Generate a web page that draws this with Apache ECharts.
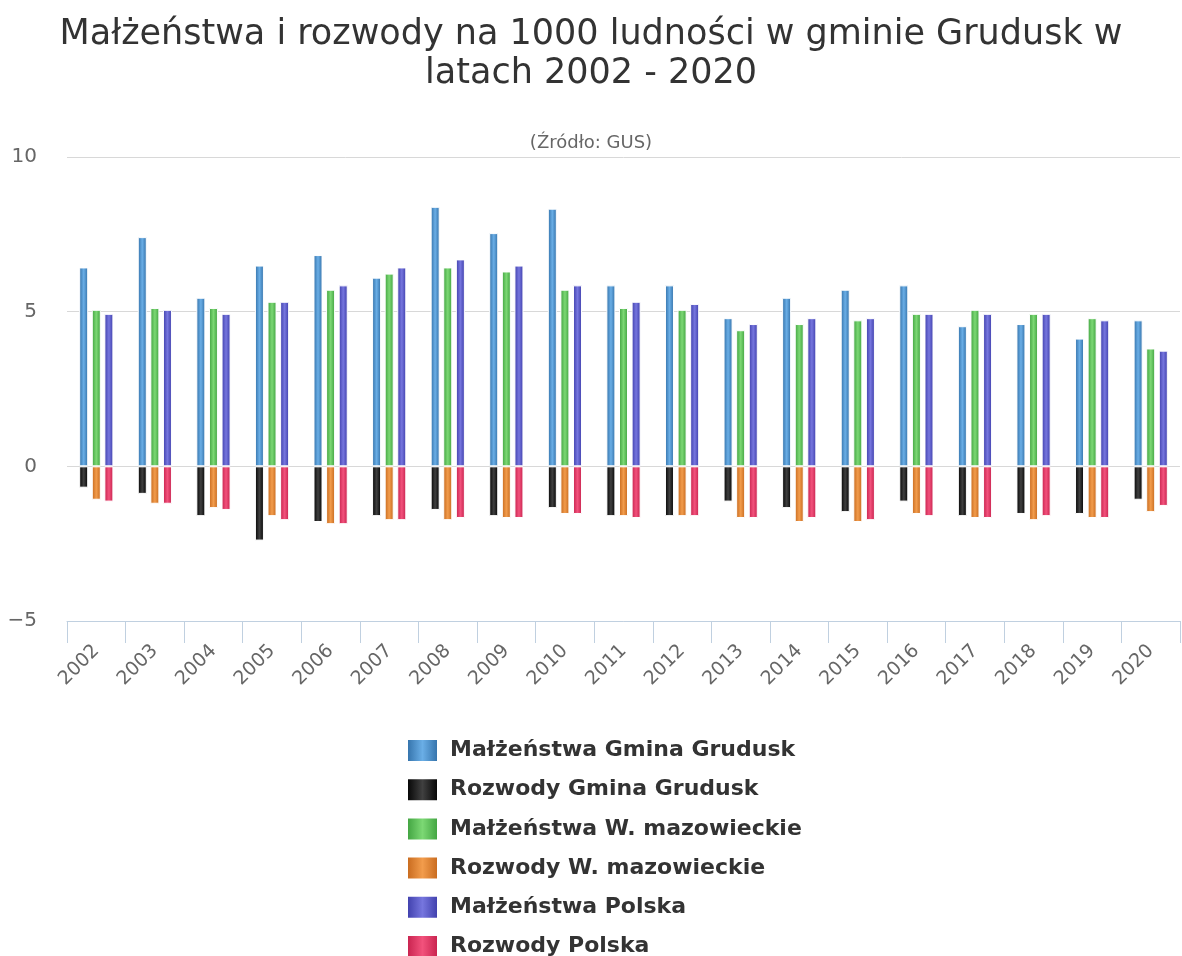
<!DOCTYPE html>
<html>
<head>
<meta charset="utf-8">
<script src="https://cdn.jsdelivr.net/npm/echarts@6/dist/echarts.min.js"></script>
<style>
  html, body { margin: 0; padding: 0; background: #fff; }
  #chart { width: 1182px; height: 956px; }
</style>
</head>
<body>
<div id="chart"></div>
<script>
const years = ["2002", "2003", "2004", "2005", "2006", "2007", "2008", "2009", "2010", "2011",
  "2012", "2013", "2014", "2015", "2016", "2017", "2018", "2019", "2020"];

// per 1000 inhabitants
const malzGmina = [6.43, 7.41, 5.45, 6.49, 6.83, 6.10, 8.39, 7.54, 8.33, 5.85,
  5.85, 4.79, 5.45, 5.71, 5.85, 4.53, 4.60, 4.13, 4.72];
const rozwGmina = [-0.69, -0.89, -1.61, -2.40, -1.80, -1.61, -1.41, -1.61, -1.35, -1.61,
  -1.61, -1.14, -1.35, -1.48, -1.14, -1.61, -1.54, -1.54, -1.08];
const malzWoj = [5.06, 5.12, 5.12, 5.32, 5.71, 6.23, 6.43, 6.30, 5.71, 5.12,
  5.06, 4.40, 4.60, 4.72, 4.93, 5.06, 4.93, 4.79, 3.81];
const rozwWoj = [-1.08, -1.21, -1.35, -1.61, -1.87, -1.74, -1.74, -1.67, -1.54, -1.61,
  -1.61, -1.67, -1.80, -1.80, -1.54, -1.67, -1.74, -1.67, -1.48];
const malzPolska = [4.93, 5.06, 4.93, 5.32, 5.85, 6.43, 6.69, 6.49, 5.85, 5.32,
  5.25, 4.60, 4.79, 4.79, 4.93, 4.93, 4.93, 4.72, 3.74];
const rozwPolska = [-1.14, -1.21, -1.41, -1.74, -1.87, -1.74, -1.67, -1.67, -1.54, -1.67,
  -1.61, -1.67, -1.67, -1.74, -1.61, -1.67, -1.61, -1.67, -1.28];

const yTicks = { min: -5, max: 10, step: 5 };

function shade(edge, mid) {
  return new echarts.graphic.LinearGradient(0, 0, 1, 0, [
    { offset: 0, color: edge },
    { offset: 0.5, color: mid },
    { offset: 1, color: edge }
  ]);
}

function barSeries(name, data, stack, edge, mid) {
  return {
    name: name,
    type: "bar",
    stack: stack,
    data: data,
    barWidth: 9,
    barGap: "40%",
    itemStyle: { color: shade(edge, mid), borderColor: "#fff", borderWidth: 1 }
  };
}

const chart = echarts.init(document.getElementById("chart"));

const titleStyle = { fontSize: 35, fontWeight: "normal", color: "#333" };

chart.setOption({
  animation: false,
  textStyle: { fontFamily: "DejaVu Sans" },
  title: [
    { text: "Małżeństwa i rozwody na 1000 ludności w gminie Grudusk w", left: "center", top: 12, textStyle: titleStyle },
    { text: "latach 2002 - 2020", left: "center", top: 51, textStyle: titleStyle },
    {
      text: "(Źródło: GUS)",
      left: "center",
      top: 129,
      textStyle: { fontSize: 18, fontWeight: "normal", color: "#666" }
    }
  ],
  grid: { left: 67, right: 2, top: 157, bottom: 335 },
  legend: {
    orient: "vertical",
    left: 406,
    top: 738,
    height: 260,
    padding: 0,
    icon: "rect",
    itemWidth: 31,
    itemHeight: 23,
    itemGap: 14.2,
    textStyle: { fontSize: 22, lineHeight: 23, fontWeight: "bold", color: "#333", padding: [0, 0, 0, 7] }
  },
  xAxis: {
    type: "category",
    data: years,
    axisLine: { onZero: false, lineStyle: { color: "#c0d0e0", width: 1 } },
    axisTick: { show: true, length: 22, lineStyle: { color: "#c0d0e0" } },
    axisLabel: { rotate: 45, fontSize: 19, color: "#666", margin: 27, interval: 0 }
  },
  yAxis: {
    type: "value",
    min: yTicks.min,
    max: yTicks.max,
    interval: yTicks.step,
    axisLine: { show: false },
    axisTick: { show: false },
    splitLine: { lineStyle: { color: "#d8d8d8", width: 1 } },
    axisLabel: {
      fontSize: 20,
      color: "#666",
      margin: 30,
      formatter: v => String(v).replace("-", "\u2212")
    }
  },
  series: [
    barSeries("Małżeństwa Gmina Grudusk", malzGmina, "gmina", "#2f6da5", "#6aaee6"),
    barSeries("Rozwody Gmina Grudusk", rozwGmina, "gmina", "#000000", "#404040"),
    barSeries("Małżeństwa W. mazowieckie", malzWoj, "woj", "#3c9f3c", "#7cd874"),
    barSeries("Rozwody W. mazowieckie", rozwWoj, "woj", "#c4661a", "#f29c4c"),
    barSeries("Małżeństwa Polska", malzPolska, "pol", "#3b3ba8", "#7676de"),
    barSeries("Rozwody Polska", rozwPolska, "pol", "#c41e4a", "#f2527c")
  ]
});
</script>
</body>
</html>
